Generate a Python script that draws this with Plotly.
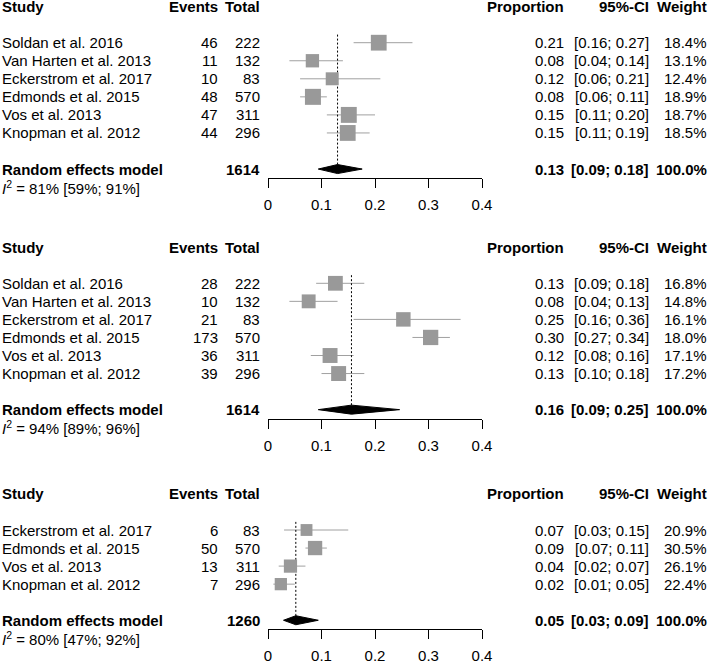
import plotly.graph_objects as go

W, H = 709, 663
FONT = "Liberation Sans, Arial, Helvetica, sans-serif"
FS = 15

# ---------------- data ----------------
studies1 = ["Soldan et al. 2016", "Van Harten et al. 2013", "Eckerstrom et al. 2017",
            "Edmonds et al. 2015", "Vos et al. 2013", "Knopman et al. 2012"]
events1 = [46, 11, 10, 48, 47, 44]
total1 = [222, 132, 83, 570, 311, 296]
prop1 = [0.207, 0.083, 0.120, 0.084, 0.151, 0.149]
lo1 = [0.16, 0.04, 0.06, 0.06, 0.11, 0.11]
hi1 = [0.27, 0.14, 0.21, 0.11, 0.20, 0.19]
weight1 = [18.4, 13.1, 12.4, 18.9, 18.7, 18.5]
summary1 = [0.13, 0.094, 0.176]   # estimate, lower, upper
sumtotal1 = 1614
i2_1 = "81% [59%; 91%]"

studies2 = ["Soldan et al. 2016", "Van Harten et al. 2013", "Eckerstrom et al. 2017",
            "Edmonds et al. 2015", "Vos et al. 2013", "Knopman et al. 2012"]
events2 = [28, 10, 21, 173, 36, 39]
total2 = [222, 132, 83, 570, 311, 296]
prop2 = [0.126, 0.076, 0.253, 0.304, 0.116, 0.132]
lo2 = [0.09, 0.04, 0.16, 0.27, 0.08, 0.10]
hi2 = [0.18, 0.13, 0.36, 0.34, 0.16, 0.18]
weight2 = [16.8, 14.8, 16.1, 18.0, 17.1, 17.2]
summary2 = [0.156, 0.094, 0.246]
sumtotal2 = 1614
i2_2 = "94% [89%; 96%]"

studies3 = ["Eckerstrom et al. 2017", "Edmonds et al. 2015", "Vos et al. 2013", "Knopman et al. 2012"]
events3 = [6, 50, 13, 7]
total3 = [83, 570, 311, 296]
prop3 = [0.072, 0.088, 0.042, 0.024]
lo3 = [0.03, 0.07, 0.02, 0.01]
hi3 = [0.15, 0.11, 0.07, 0.05]
weight3 = [20.9, 30.5, 26.1, 22.4]
summary3 = [0.052, 0.029, 0.094]
sumtotal3 = 1260
i2_3 = "80% [47%; 92%]"

summary_weight = "100.0%"
tick_vals = [0, 0.1, 0.2, 0.3, 0.4]
tick_text = ["0", "0.1", "0.2", "0.3", "0.4"]
headers = ["Study", "Events", "Total", "Proportion", "95%-CI", "Weight"]
summary_label = "Random effects model"

panels = [
    dict(studies=studies1, events=events1, total=total1, prop=prop1, lo=lo1, hi=hi1,
         weight=weight1, summary=summary1, sumtotal=sumtotal1, i2=i2_1),
    dict(studies=studies2, events=events2, total=total2, prop=prop2, lo=lo2, hi=hi2,
         weight=weight2, summary=summary2, sumtotal=sumtotal2, i2=i2_2),
    dict(studies=studies3, events=events3, total=total3, prop=prop3, lo=lo3, hi=hi3,
         weight=weight3, summary=summary3, sumtotal=sumtotal3, i2=i2_3),
]

# ---------------- layout geometry (pixels) ----------------
ROW = 18.05
first_row_px = [42.7, 283.3, 530.0]
panel_bounds = [(0, 215), (215, 455), (455, 663)]
box_max = [16.0, 15.3, 14.3]
X_FOREST = (268, 482)
COL_STUDY = 2
COL_EVENTS = 218
COL_TOTAL = 260
COL_PROP = 564
COL_CI = 649
COL_WEIGHT = 707

SQ_COLOR = "#999999"
CI_COLOR = "#a0a0a0"

fig = go.Figure()
annotations = []


def px2paper_x(p):
    return p / W


def px2paper_y(p):
    return 1 - p / H


layout_axes = {}
for i, P in enumerate(panels):
    sfx = "" if i == 0 else str(i + 1)
    xa, ya = "x" + sfx, "y" + sfx
    n = len(P["studies"])
    y0 = first_row_px[i]
    ptop, pbot = panel_bounds[i]
    rows = list(range(n))
    srow = n + 1
    est, slo, shi = P["summary"]

    # CI lines
    xs, ys = [], []
    for r, l, h in zip(rows, P["lo"], P["hi"]):
        xs += [l, h, None]
        ys += [r, r, None]
    fig.add_trace(go.Scatter(x=xs, y=ys, mode="lines", line=dict(color=CI_COLOR, width=1),
                             xaxis=xa, yaxis=ya, hoverinfo="skip", showlegend=False))
    # reference dotted line at summary estimate
    fig.add_trace(go.Scatter(x=[est, est], y=[-0.45, srow], mode="lines",
                             line=dict(color="black", width=1, dash="2px,2px"),
                             xaxis=xa, yaxis=ya, hoverinfo="skip", showlegend=False))
    # squares
    wmax = max(P["weight"])
    sizes = [box_max[i] * (w / wmax) ** 0.5 for w in P["weight"]]
    fig.add_trace(go.Scatter(x=P["prop"], y=rows, mode="markers",
                             marker=dict(symbol="square", size=sizes, color=SQ_COLOR,
                                         opacity=1, line=dict(width=0)),
                             xaxis=xa, yaxis=ya, hoverinfo="skip", showlegend=False))
    # diamond
    fig.add_trace(go.Scatter(x=[slo, est, shi, est, slo],
                             y=[srow, srow - 0.25, srow, srow + 0.25, srow],
                             mode="lines", fill="toself", fillcolor="black",
                             line=dict(color="black", width=1),
                             xaxis=xa, yaxis=ya, hoverinfo="skip", showlegend=False))

    # axes
    axis_px = y0 + (srow + 0.5) * ROW
    layout_axes["xaxis" + sfx] = dict(
        domain=[px2paper_x(X_FOREST[0]), px2paper_x(X_FOREST[1])],
        range=[0, 0.4], anchor="free", position=px2paper_y(axis_px),
        tickvals=tick_vals, ticktext=tick_text, ticks="outside", ticklen=9,
        tickcolor="black", tickwidth=1, showline=True, linecolor="black", linewidth=1,
        showgrid=False, zeroline=False, tickfont=dict(family=FONT, size=FS, color="black"),
        ticklabelstandoff=4,
        fixedrange=True, automargin=False,
    )
    layout_axes["yaxis" + sfx] = dict(
        domain=[px2paper_y(pbot), px2paper_y(ptop)],
        range=[(pbot - y0) / ROW, (ptop - y0) / ROW],
        visible=False, showgrid=False, zeroline=False, fixedrange=True, anchor=xa,
        automargin=False,
    )

    def ann(text, xpx, row, anchor, bold=False):
        annotations.append(dict(
            text=f"<b>{text}</b>" if bold else text,
            x=px2paper_x(xpx), xref="paper", y=row, yref=ya,
            xanchor=anchor, yanchor="middle", showarrow=False,
            borderpad=0, borderwidth=0,
            font=dict(family=FONT, size=FS, color="black"),
        ))

    # headers
    hrow = -2
    ann(headers[0], COL_STUDY, hrow, "left", True)
    ann(headers[1], COL_EVENTS, hrow, "right", True)
    ann(headers[2], COL_TOTAL, hrow, "right", True)
    ann(headers[3], COL_PROP, hrow, "right", True)
    ann(headers[4], COL_CI, hrow, "right", True)
    ann(headers[5], COL_WEIGHT, hrow, "right", True)

    for r in rows:
        ann(P["studies"][r], COL_STUDY, r, "left")
        ann(str(P["events"][r]), COL_EVENTS, r, "right")
        ann(str(P["total"][r]), COL_TOTAL, r, "right")
        ann(f"{P['prop'][r]:.2f}", COL_PROP, r, "right")
        ann(f"[{P['lo'][r]:.2f}; {P['hi'][r]:.2f}]", COL_CI, r, "right")
        ann(f"{P['weight'][r]:.1f}%", COL_WEIGHT, r, "right")

    ann(summary_label, COL_STUDY, srow, "left", True)
    ann(str(P["sumtotal"]), COL_TOTAL, srow, "right", True)
    ann(f"{est:.2f}", COL_PROP, srow, "right", True)
    ann(f"[{slo:.2f}; {shi:.2f}]", COL_CI, srow, "right", True)
    ann(summary_weight, COL_WEIGHT, srow, "right", True)
    ann(f"<i>I</i><sup>2</sup> = {P['i2']}", COL_STUDY, srow + 1, "left")

fig.update_layout(
    template="none",
    width=W, height=H,
    margin=dict(l=0, r=0, t=0, b=0, pad=0, autoexpand=False),
    paper_bgcolor="white", plot_bgcolor="rgba(0,0,0,0)",
    showlegend=False,
    annotations=annotations,
    font=dict(family=FONT, size=FS, color="black"),
    **layout_axes,
)

fig.write_html(
    "out.html",
    config={"displayModeBar": False},
    post_script="document.body.style.margin='0';document.body.style.overflow='hidden';",
)
